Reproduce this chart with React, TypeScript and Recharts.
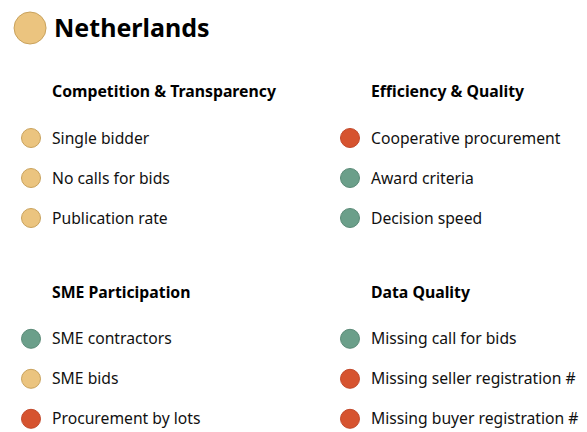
import { ScatterChart, Scatter, XAxis, YAxis } from "recharts";

const countryName = "Netherlands";
const countryStatus = "amber";

const sectionTitles = [
  "Competition & Transparency",
  "Efficiency & Quality",
  "SME Participation",
  "Data Quality",
];

const competitionItems = ["Single bidder", "No calls for bids", "Publication rate"];
const competitionStatus = ["amber", "amber", "amber"];

const efficiencyItems = ["Cooperative procurement", "Award criteria", "Decision speed"];
const efficiencyStatus = ["red", "green", "green"];

const smeItems = ["SME contractors", "SME bids", "Procurement by lots"];
const smeStatus = ["green", "amber", "red"];

const dataQualityItems = [
  "Missing call for bids",
  "Missing seller registration #",
  "Missing buyer registration #",
];
const dataQualityStatus = ["green", "red", "red"];

const COLORS: Record<string, { fill: string; stroke: string }> = {
  amber: { fill: "#ebc47f", stroke: "#c9a25c" },
  green: { fill: "#6b9f8a", stroke: "#5a8a77" },
  red: { fill: "#d6532f", stroke: "#c2482a" },
};

const FONT = "'Noto Sans', sans-serif";

// column 0/1, section row 0/1, item index 0..2
const groups = [
  { col: 0, row: 0, items: competitionItems, status: competitionStatus },
  { col: 1, row: 0, items: efficiencyItems, status: efficiencyStatus },
  { col: 0, row: 1, items: smeItems, status: smeStatus },
  { col: 1, row: 1, items: dataQualityItems, status: dataQualityStatus },
];

const itemData = groups.flatMap((g) =>
  g.items.map((name, i) => ({ x: g.col, y: g.row * 5.02 + i, name, status: g.status[i] }))
);

const headingData = groups.map((g, i) => ({
  x: g.col,
  y: g.row * 5.02 - 1.17,
  name: sectionTitles[i],
}));

const titleData = [{ x: -0.003, y: -2.75, name: countryName, status: countryStatus }];

const ItemShape = (props: any) => {
  const { cx, cy, payload } = props;
  const c = COLORS[payload.status];
  return (
    <g>
      <circle cx={cx} cy={cy} r={9.5} fill={c.fill} stroke={c.stroke} strokeWidth={1} />
      <text x={cx + 21} y={cy} dy="0.36em" fontFamily={FONT} fontSize={15.7} fill="#111">
        {payload.name}
      </text>
    </g>
  );
};

const HeadingShape = (props: any) => {
  const { cx, cy, payload } = props;
  return (
    <text x={cx + 21} y={cy} dy="0.36em" fontFamily={FONT} fontSize={15.8} fontWeight={700} fill="#000">
      {payload.name}
    </text>
  );
};

const TitleShape = (props: any) => {
  const { cx, cy, payload } = props;
  const c = COLORS[payload.status];
  return (
    <g>
      <circle cx={cx} cy={cy} r={16} fill={c.fill} stroke={c.stroke} strokeWidth={1} />
      <text x={cx + 24} y={cy} dy="0.36em" fontFamily={FONT} fontSize={25} fontWeight={700} fill="#000">
        {payload.name}
      </text>
    </g>
  );
};

export default function App() {
  return (
    <div style={{ position: "absolute", left: 0, top: 0, background: "#fff" }}>
      <ScatterChart width={587} height={432} margin={{ top: 0, right: 0, bottom: 0, left: 0 }}>
        <XAxis type="number" dataKey="x" domain={[-0.0972, 1.743]} hide />
        <YAxis type="number" dataKey="y" domain={[-3.45, 7.35]} reversed hide />
        <Scatter data={titleData} shape={TitleShape} isAnimationActive={false} />
        <Scatter data={headingData} shape={HeadingShape} isAnimationActive={false} />
        <Scatter data={itemData} shape={ItemShape} isAnimationActive={false} />
      </ScatterChart>
    </div>
  );
}
